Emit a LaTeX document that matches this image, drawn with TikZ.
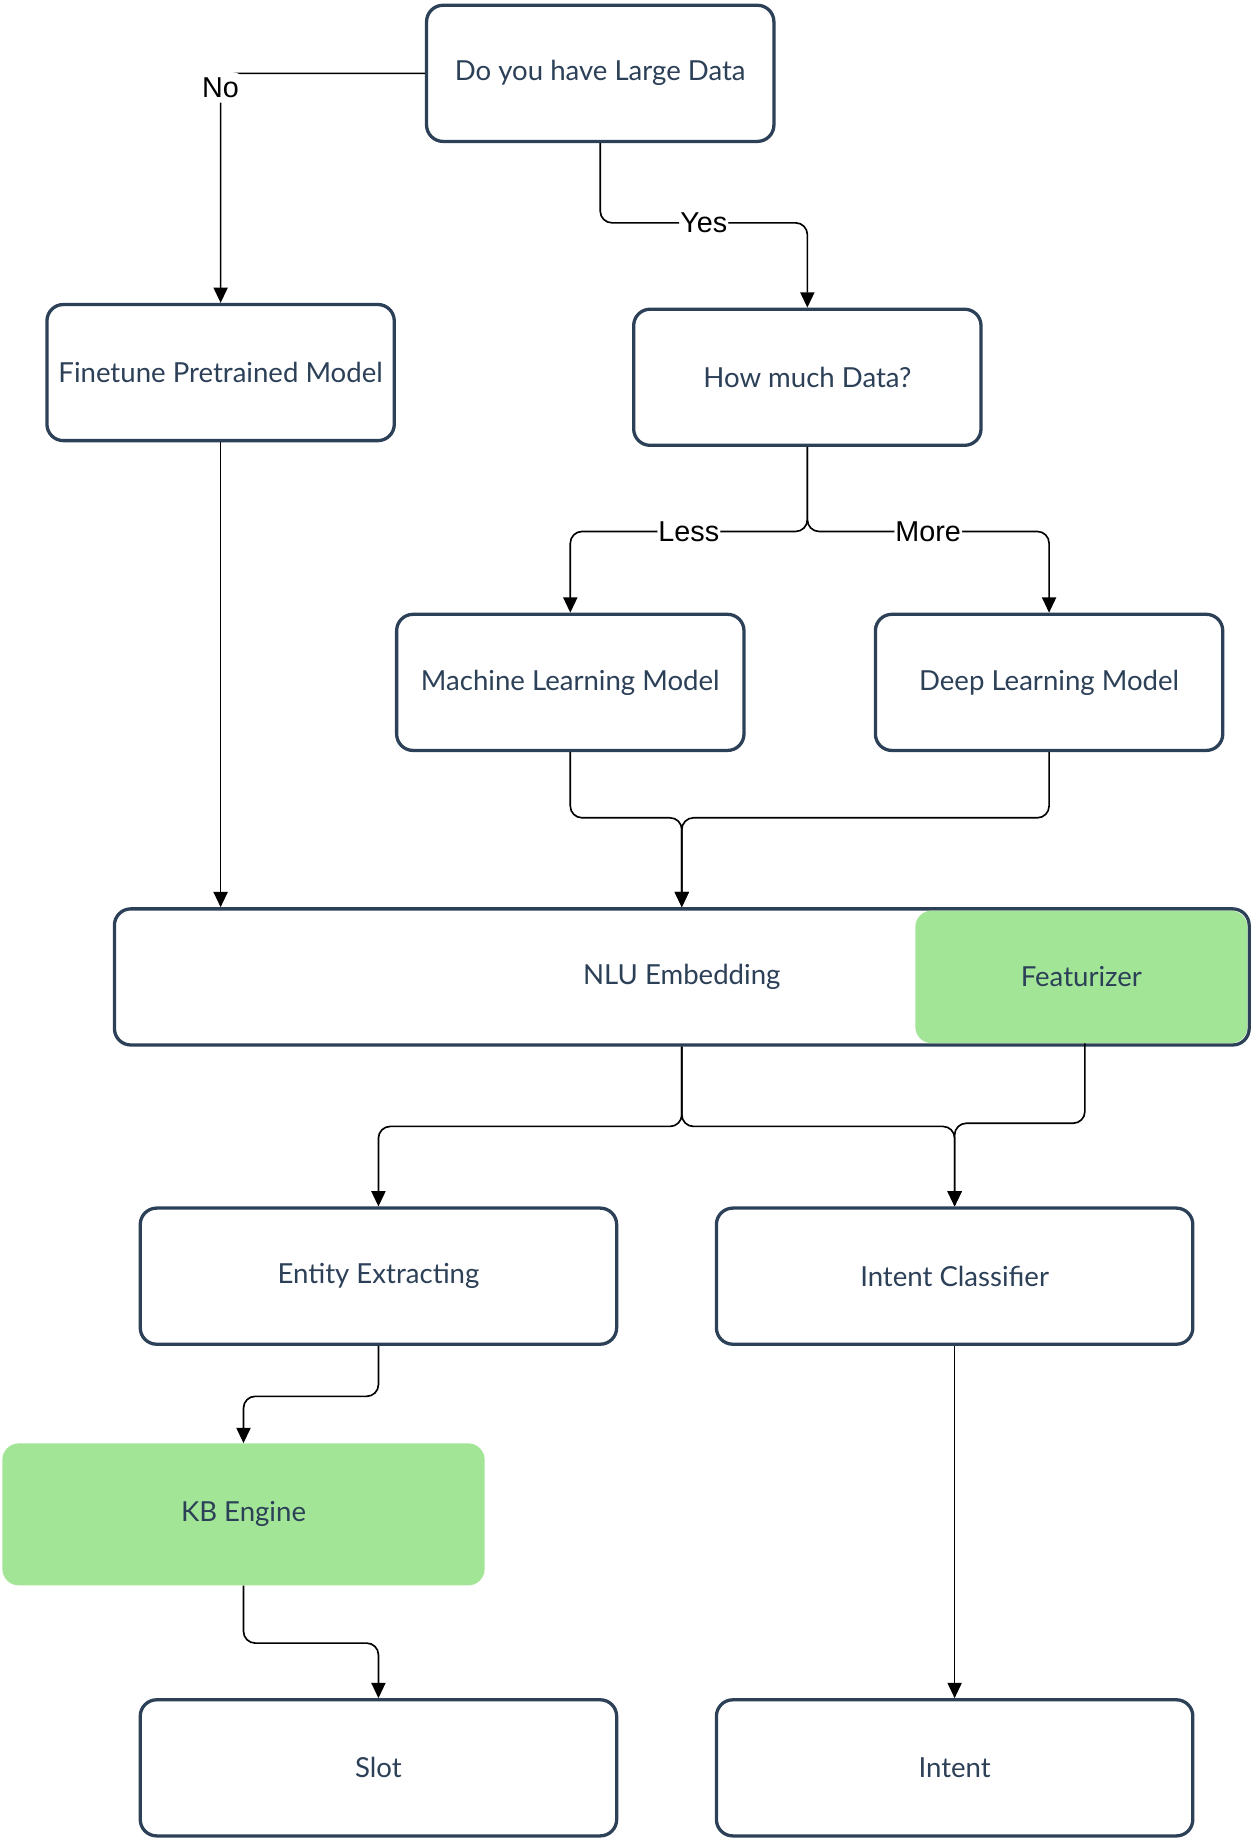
\documentclass[tikz,border=0pt]{standalone}
\usepackage{fontspec}
\setmainfont{Lato}
\newfontfamily\lblfont{Liberation Sans}
\usetikzlibrary{arrows.meta,calc}
\definecolor{navy}{HTML}{2C4058}
\definecolor{leaf}{HTML}{A3E596}
\begin{document}
\begin{tikzpicture}[x=1pt,y=-1pt,
    box/.style={draw=navy, line width=2.8pt, rounded corners=14pt, fill=white,
        minimum width=296pt, minimum height=116pt, text=navy, font=\fontsize{23.5}{28}\selectfont},
    widebox/.style={box, minimum width=406pt},
    greenbox/.style={fill=leaf, rounded corners=14pt, text=navy, font=\fontsize{23.5}{28}\selectfont},
    conn/.style={draw=black, line width=1.4pt, rounded corners=10pt, -{Triangle[length=13pt,width=12pt]}},
    lbl/.style={fill=white, inner sep=1pt, font=\lblfont\fontsize{24.5}{28}\selectfont}]
    \useasboundingbox (0,0) rectangle (1067,1568);
    % decision boxes
    \node[box] (large) at (511.5,62.5) {Do you have Large Data};
    \node[box] (finetune) at (188,317.5) {Finetune Pretrained Model};
    \node[box] (howmuch) at (688,321.5) {How much Data?};
    \node[box] (ml) at (486,581.5) {Machine Learning Model};
    \node[box] (dl) at (894,581.5) {Deep Learning Model};
    % embedding with featurizer inside
    \node[box, minimum width=967pt] (nlu) at (581,832.5) {NLU Embedding};
    \node[greenbox, minimum width=283pt, minimum height=113pt] (feat) at (921.5,832.5) {Featurizer};
    % outputs
    \node[widebox] (entity) at (322.5,1087.5) {Entity Extracting};
    \node[widebox] (intentc) at (813.5,1087.5) {Intent Classifier};
    \node[greenbox, minimum width=411pt, minimum height=121pt] (kb) at (207.5,1290.5) {KB Engine};
    \node[widebox] (slot) at (322.5,1506.5) {Slot};
    \node[widebox] (intent) at (813.5,1506.5) {Intent};
    % connectors
    \draw[conn] (large.west) -| node[pos=0.5, lbl, inner sep=4.5pt, yshift=-12pt] {No} (finetune.north);
    \draw[conn] (large.south) -- ++(0,68) -| node[pos=0.25, lbl] {Yes} (howmuch.north);
    \draw[conn] (howmuch.south) -- ++(0,72) -| node[pos=0.25, lbl] {Less} (ml.north);
    \draw[conn] (howmuch.south) -- ++(0,72) -| node[pos=0.25, lbl] {More} (dl.north);
    \draw[conn] (ml.south) -- ++(0,56) -| (nlu.north);
    \draw[conn] (dl.south) -- ++(0,56) -| (nlu.north);
    \draw[conn] (finetune.south) -- (finetune.south |- nlu.north);
    \draw[conn] (nlu.south) -- ++(0,68) -| (entity.north);
    \draw[conn] (nlu.south) -- ++(0,68) -| (intentc.north);
    \draw[conn] ($(feat.south)+(3,0)$) -- ++(0,68) -| (intentc.north);
    \draw[conn] (entity.south) -- ++(0,43) -| (kb.north);
    \draw[conn] (kb.south) -- ++(0,49) -| (slot.north);
    \draw[conn] (intentc.south) -- (intent.north);
\end{tikzpicture}
\end{document}
